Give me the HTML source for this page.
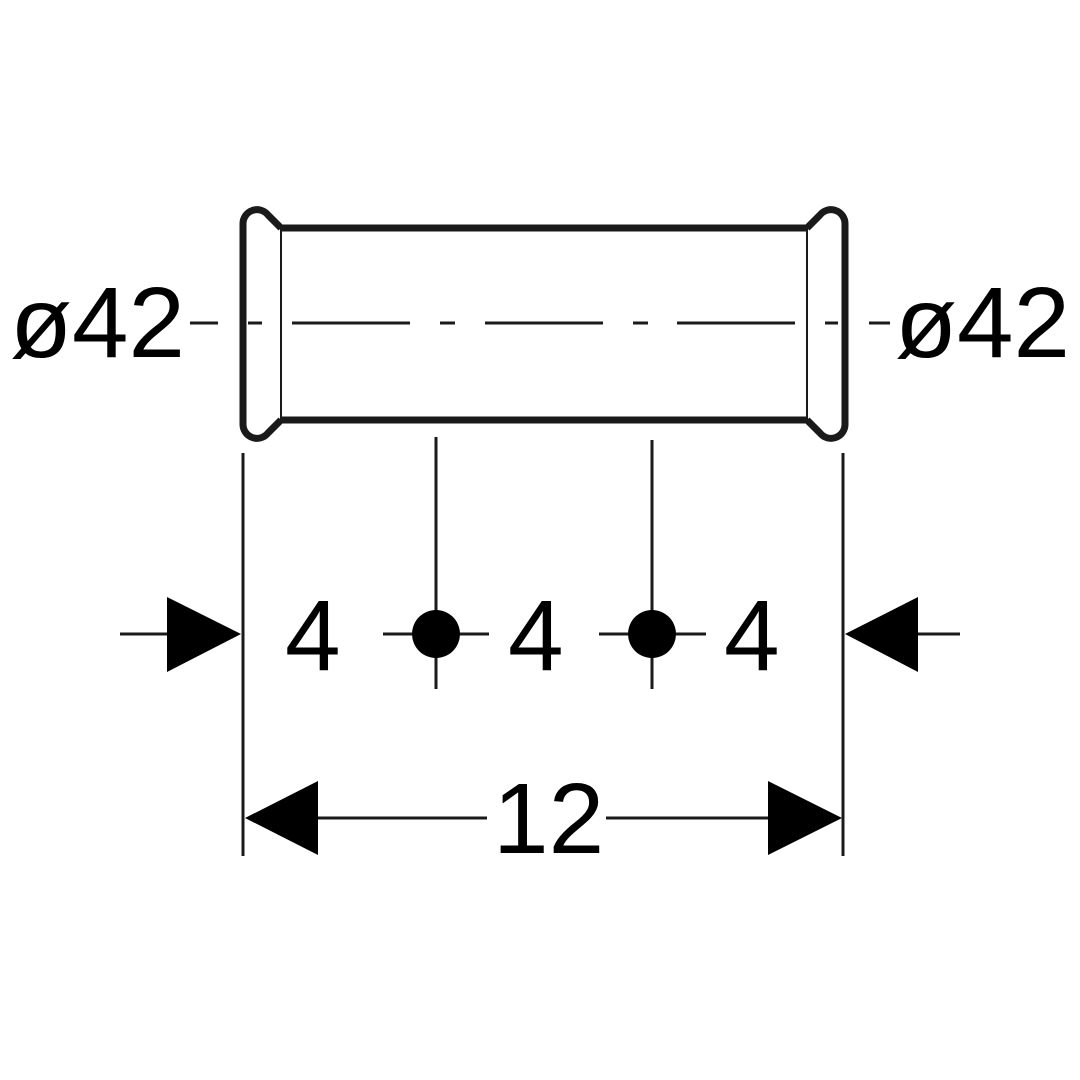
<!DOCTYPE html>
<html><head><style>html,body{margin:0;padding:0;background:#fff;}svg{display:block}</style></head>
<body>
<svg width="1080" height="1080" viewBox="0 0 1080 1080" xmlns="http://www.w3.org/2000/svg">
<rect width="1080" height="1080" fill="#fff"/>
<g fill="none" stroke="#1a1a1a" stroke-linejoin="round" stroke-linecap="butt">
<path d="M281,228 L268,215 A14,14 0 0 0 243,224 L243,424 A14,14 0 0 0 268,433 L281,420" stroke-width="7"/>
<path d="M807,228 L820,215 A14,14 0 0 1 845,224 L845,424 A14,14 0 0 1 820,433 L807,420" stroke-width="7"/>
<line x1="280" y1="228" x2="808" y2="228" stroke-width="7"/>
<line x1="280" y1="420" x2="808" y2="420" stroke-width="7"/>
<line x1="281" y1="228" x2="281" y2="420" stroke-width="2"/>
<line x1="807" y1="228" x2="807" y2="420" stroke-width="2"/>
</g>
<g stroke="#1a1a1a" stroke-width="3">
<line x1="190" y1="323" x2="218" y2="323"/>
<line x1="248" y1="323" x2="262" y2="323"/>
<line x1="292" y1="323" x2="410" y2="323"/>
<line x1="440" y1="323" x2="455" y2="323"/>
<line x1="485" y1="323" x2="603" y2="323"/>
<line x1="633" y1="323" x2="648" y2="323"/>
<line x1="677" y1="323" x2="795" y2="323"/>
<line x1="825" y1="323" x2="838" y2="323"/>
<line x1="869" y1="323" x2="890" y2="323"/>
<line x1="243" y1="453" x2="243" y2="856"/>
<line x1="843" y1="453" x2="843" y2="856"/>
<line x1="436" y1="437" x2="436" y2="689"/>
<line x1="652" y1="440" x2="652" y2="689"/>
<line x1="120" y1="634" x2="170" y2="634"/>
<line x1="383" y1="634" x2="489" y2="634"/>
<line x1="599" y1="634" x2="706" y2="634"/>
<line x1="915" y1="634" x2="960" y2="634"/>
<line x1="315" y1="818" x2="487" y2="818"/>
<line x1="606" y1="818" x2="771" y2="818"/>
</g>
<g fill="#000">
<circle cx="436" cy="634" r="24"/>
<circle cx="652" cy="634" r="24"/>
<polygon points="241,634 167,597 167,672"/>
<polygon points="845,634 918,597 918,672"/>
<polygon points="245,818 318,781 318,855"/>
<polygon points="842,818 768,781 768,855"/>
</g>
<g font-family="Liberation Sans, sans-serif" font-size="100" fill="#000">
<text x="10" y="357" textLength="175" lengthAdjust="spacingAndGlyphs">ø42</text>
<text x="895" y="357" textLength="175" lengthAdjust="spacingAndGlyphs">ø42</text>
<text x="285" y="670">4</text>
<text x="508" y="670">4</text>
<text x="724" y="670">4</text>
<text x="493" y="853">12</text>
</g>
</svg>
</body></html>
